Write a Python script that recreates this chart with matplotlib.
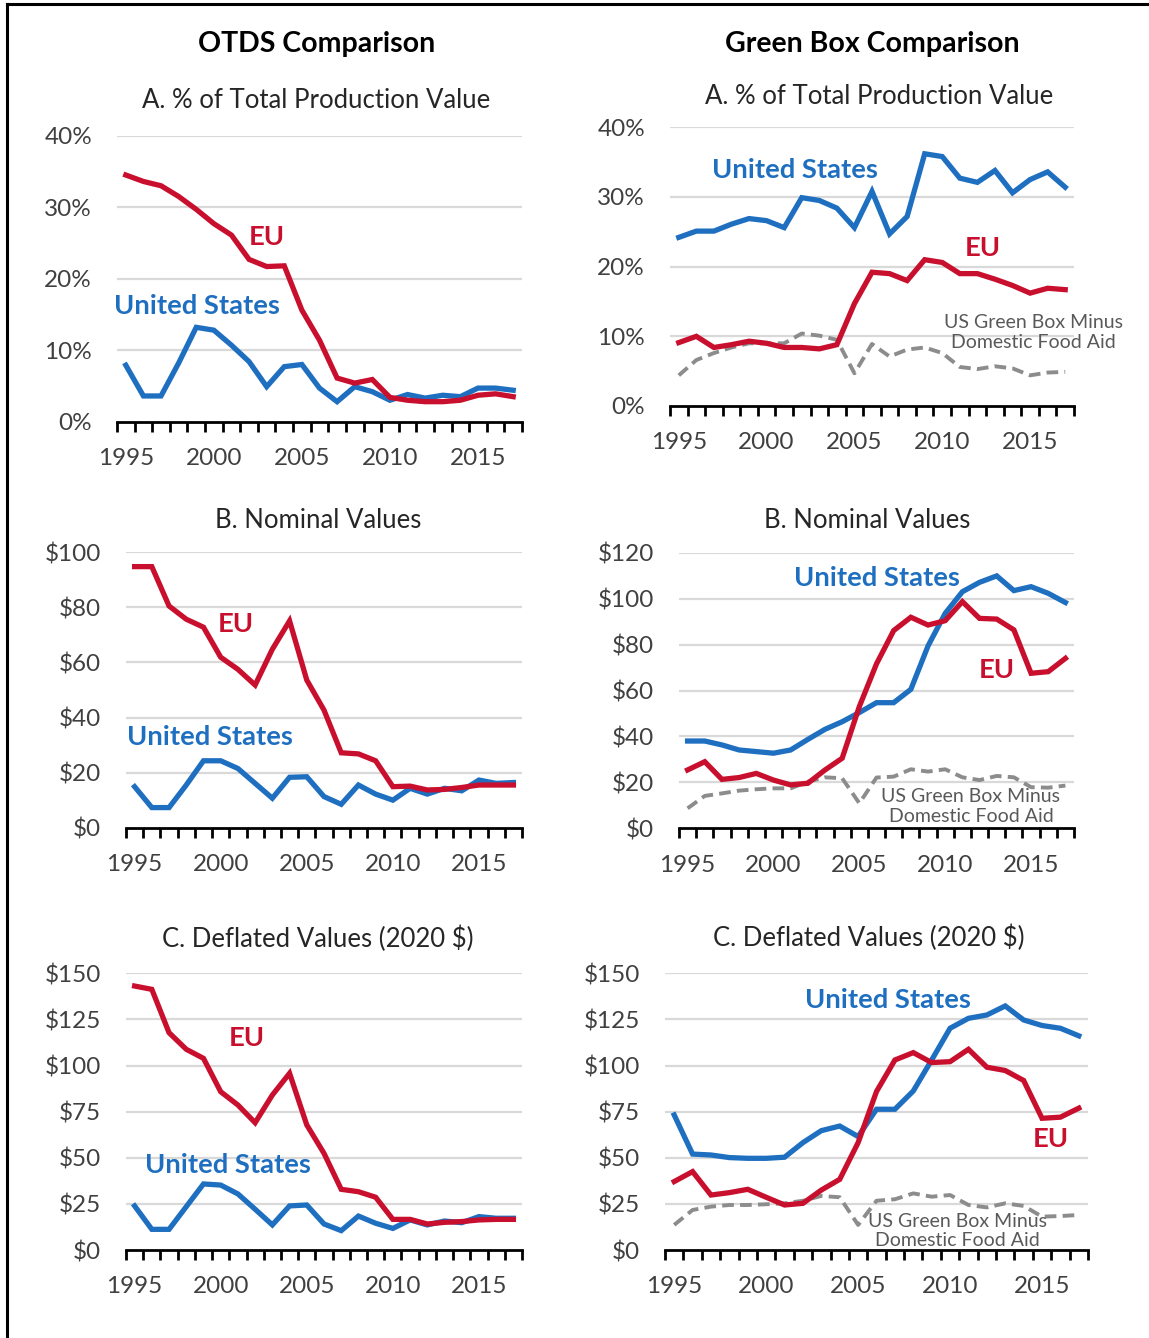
import matplotlib
matplotlib.use("Agg")
import matplotlib.pyplot as plt
from matplotlib.lines import Line2D
from matplotlib.ticker import FixedLocator, FuncFormatter

plt.rcParams['font.family'] = ['Lato', 'DejaVu Sans']

years = list(range(1995, 2018))

# OTDS, % of total production value
otds_pct_eu = [34.5, 33.6, 33.0, 31.5, 29.7, 27.7, 26.1, 22.7, 21.7, 21.8, 15.6, 11.4,
               6.1, 5.4, 5.9, 3.4, 3.0, 2.8, 2.8, 3.0, 3.7, 3.9, 3.5]
otds_pct_us = [7.9, 3.6, 3.6, 8.2, 13.2, 12.8, 10.7, 8.4, 4.9, 7.7, 8.0, 4.7,
               2.8, 4.9, 4.2, 3.0, 3.8, 3.3, 3.7, 3.5, 4.7, 4.7, 4.4]

# Green box, % of total production value
gb_pct_us = [24.2, 25.1, 25.1, 26.1, 26.9, 26.6, 25.6, 29.9, 29.5, 28.4, 25.6, 30.8,
             24.7, 27.2, 36.2, 35.8, 32.7, 32.1, 33.8, 30.6, 32.5, 33.6, 31.4]
gb_pct_eu = [9.1, 10.0, 8.4, 8.8, 9.3, 9.0, 8.4, 8.4, 8.2, 8.8, 14.7, 19.2,
             19.0, 18.0, 21.0, 20.6, 19.0, 19.0, 18.2, 17.3, 16.2, 16.9, 16.7]
gb_pct_us_nofood = [4.4, 6.6, 7.6, 8.4, 9.0, 9.0, 9.0, 10.4, 10.1, 9.5, 4.7, 8.9,
                    7.1, 8.1, 8.4, 7.6, 5.6, 5.3, 5.7, 5.4, 4.4, 4.8, 4.9]

# OTDS, nominal ($ billion)
otds_nom_eu = [94.8, 94.8, 80.5, 75.7, 72.8, 61.9, 57.5, 51.8, 64.8, 75.1, 53.6, 42.7,
               27.2, 26.8, 24.3, 14.9, 15.1, 13.7, 13.9, 14.6, 15.5, 15.5, 15.5]
otds_nom_us = [14.9, 7.3, 7.3, 15.5, 24.3, 24.3, 21.5, 16.1, 10.7, 18.3, 18.5, 11.3,
               8.5, 15.5, 12.2, 10.0, 14.3, 12.2, 14.3, 13.4, 17.3, 16.1, 16.4]

# Green box, nominal ($ billion)
gb_nom_us = [38.0, 38.0, 36.3, 34.1, 33.4, 32.7, 34.1, 38.7, 43.1, 46.4, 50.4, 54.7,
             54.7, 60.5, 79.4, 93.6, 103.0, 107.1, 109.9, 103.5, 105.2, 102.3, 98.3]
gb_nom_eu = [25.4, 29.0, 21.3, 22.1, 23.9, 21.0, 18.9, 19.6, 25.4, 30.5, 53.0, 71.6,
             86.1, 91.9, 88.5, 90.4, 98.7, 91.4, 91.1, 86.4, 67.5, 68.2, 74.0]
gb_nom_us_nofood = [8.7, 14.1, 15.2, 16.4, 17.0, 17.4, 17.4, 20.3, 22.2, 21.8, 10.9, 22.1,
                    22.5, 25.7, 24.7, 25.7, 22.2, 21.0, 22.8, 22.2, 17.9, 17.7, 18.6]

# OTDS, deflated (2020 $ billion)
otds_defl_eu = [143.1, 141.3, 117.8, 108.8, 103.9, 85.8, 78.6, 69.0, 84.0, 95.8, 67.8, 52.4,
                32.9, 31.6, 28.6, 16.6, 16.6, 14.1, 15.0, 15.4, 16.3, 16.6, 16.6]
otds_defl_us = [23.9, 11.2, 11.2, 23.5, 35.8, 35.2, 30.4, 22.1, 13.6, 23.9, 24.4, 14.1,
                10.5, 18.4, 14.5, 11.7, 16.3, 13.6, 15.7, 14.8, 18.1, 17.2, 17.2]

# Green box, deflated (2020 $ billion)
gb_defl_us = [73.2, 52.0, 51.5, 50.1, 49.7, 49.7, 50.3, 58.2, 64.7, 67.2, 61.5, 76.3,
              76.3, 86.2, 103.0, 120.2, 125.6, 127.4, 132.3, 124.7, 121.7, 120.2, 116.1]
gb_defl_eu = [37.1, 42.5, 29.8, 31.1, 32.9, 28.6, 24.4, 25.3, 32.5, 38.3, 58.2, 85.9,
              103.0, 107.0, 101.6, 102.1, 108.8, 99.1, 97.3, 91.9, 71.4, 72.0, 76.9]
gb_defl_us_nofood = [13.6, 21.7, 23.5, 24.4, 24.4, 24.8, 25.3, 26.7, 29.3, 28.6, 13.6, 26.7,
                     27.5, 30.7, 28.9, 29.8, 24.4, 23.1, 25.3, 23.9, 18.1, 18.4, 19.0]

BLUE = '#1F6FC1'
RED = '#C8102E'
GRAY = '#8C8C8C'
GRID = '#D9D9D9'
TXT = '#404040'

W, H = 1149, 1338
fig = plt.figure(figsize=(W / 100, H / 100), dpi=100)


def px_axes(x0, x1, ytop, ybot):
    return fig.add_axes([x0 / W, 1 - ybot / H, (x1 - x0) / W, (ybot - ytop) / H])


def style_axis(ax, ymax, step, fmt):
    idx = list(range(len(years)))
    ax.set_xlim(-0.5, len(years) - 0.5)
    ax.set_ylim(0, ymax)
    ax.xaxis.set_major_locator(FixedLocator([i for i, y in enumerate(years) if y % 5 == 0]))
    ax.xaxis.set_major_formatter(FuncFormatter(lambda v, p: str(years[int(round(v))])))
    ax.xaxis.set_minor_locator(FixedLocator([i - 0.5 for i in idx] + [len(years) - 0.5]))
    ax.tick_params(axis='x', which='major', length=0, pad=19, labelsize=17.5, labelcolor=TXT)
    ax.tick_params(axis='x', which='minor', length=7, width=2, direction='out', color='black')
    ticks = [step * k for k in range(int(round(ymax / step)) + 1)]
    ax.yaxis.set_major_locator(FixedLocator(ticks))
    ax.yaxis.set_major_formatter(FuncFormatter(fmt))
    ax.tick_params(axis='y', length=0, pad=18, labelsize=17.5, labelcolor=TXT)
    for s in ['top', 'right', 'left']:
        ax.spines[s].set_visible(False)
    ax.spines['bottom'].set_linewidth(2)
    ax.spines['bottom'].set_zorder(5)
    for t in ticks[1:]:
        ax.axhline(t, color=GRID, lw=1.6, zorder=0)
    ax.set_facecolor('none')


pct = lambda v, p: f"{v:.0f}%"
dol = lambda v, p: f"${v:.0f}"

LW = 3.8
idx = list(range(len(years)))


def draw(ax, us, eu, nofood=None):
    if nofood is not None:
        ax.plot(idx, nofood, color=GRAY, lw=2.8, dashes=(3, 1.6), zorder=2)
    ax.plot(idx, us, color=BLUE, lw=LW, zorder=3, solid_joinstyle='miter')
    ax.plot(idx, eu, color=RED, lw=LW, zorder=4, solid_joinstyle='miter')


def series_label(ax, x, y, text, color, size=19.7):
    ax.text(x, y, text, color=color, fontsize=size, fontweight='bold', ha='center', va='center', zorder=6)


def nofood_label(ax, x, y):
    ax.text(x, y, "US Green Box Minus\nDomestic Food Aid", color='#595959', fontsize=14,
            ha='center', va='center', linespacing=1.2, zorder=6)


# Panel 1: OTDS %
ax1 = px_axes(117, 522, 135.7, 421.7)
style_axis(ax1, 40, 10, pct)
draw(ax1, otds_pct_us, otds_pct_eu)
series_label(ax1, 8.0, 25.8, "EU", RED)
series_label(ax1, 4.05, 16.2, "United States", BLUE)

# Panel 2: Green box %
ax2 = px_axes(670, 1074, 127.3, 406)
style_axis(ax2, 40, 10, pct)
draw(ax2, gb_pct_us, gb_pct_eu, gb_pct_us_nofood)
series_label(ax2, 6.6, 33.9, "United States", BLUE)
series_label(ax2, 17.3, 22.7, "EU", RED)
nofood_label(ax2, 20.2, 10.6)

# Panel 3: OTDS nominal
ax3 = px_axes(126, 522, 552.3, 827.7)
style_axis(ax3, 100, 20, dol)
draw(ax3, otds_nom_us, otds_nom_eu)
series_label(ax3, 5.9, 74.0, "EU", RED)
series_label(ax3, 4.4, 32.9, "United States", BLUE)

# Panel 4: Green box nominal
ax4 = px_axes(679, 1074, 552.7, 828.3)
style_axis(ax4, 120, 20, dol)
draw(ax4, gb_nom_us, gb_nom_eu, gb_nom_us_nofood)
series_label(ax4, 11.0, 109.0, "United States", BLUE)
series_label(ax4, 18.0, 69.0, "EU", RED)
nofood_label(ax4, 16.5, 9.4)

# Panel 5: OTDS deflated
ax5 = px_axes(126, 522, 973.3, 1250)
style_axis(ax5, 150, 25, dol)
draw(ax5, otds_defl_us, otds_defl_eu)
series_label(ax5, 6.5, 115.0, "EU", RED)
series_label(ax5, 5.4, 46.0, "United States", BLUE)

# Panel 6: Green box deflated
ax6 = px_axes(665, 1088, 973.3, 1250)
style_axis(ax6, 150, 25, dol)
draw(ax6, gb_defl_us, gb_defl_eu, gb_defl_us_nofood)
series_label(ax6, 11.6, 135.5, "United States", BLUE)
series_label(ax6, 20.5, 60.0, "EU", RED)
nofood_label(ax6, 15.4, 10.3)

# column headers and panel subtitles
fig.text(317 / W, 1 - 44 / H, "OTDS Comparison", fontsize=20.5, fontweight='bold', ha='center', va='center')
fig.text(872 / W, 1 - 44 / H, "Green Box Comparison", fontsize=20.5, fontweight='bold', ha='center', va='center')
subs = [(316, 100, "A. % of Total Production Value"), (879, 97, "A. % of Total Production Value"),
        (318, 521, "B. Nominal Values"), (867, 521, "B. Nominal Values"),
        (318, 939, "C. Deflated Values (2020 $)"), (869, 938, "C. Deflated Values (2020 $)")]
for x, y, t in subs:
    fig.text(x / W, 1 - y / H, t, fontsize=18.5, ha='center', va='center', color='#262626')

# outer frame (left and top only)
for xs, ys in [([7, 7], [4, H]), ([7, W], [4, 4])]:
    fig.add_artist(Line2D([x / W for x in xs], [1 - y / H for y in ys], color='black', lw=2.2))

fig.savefig("out.png", dpi=100)
